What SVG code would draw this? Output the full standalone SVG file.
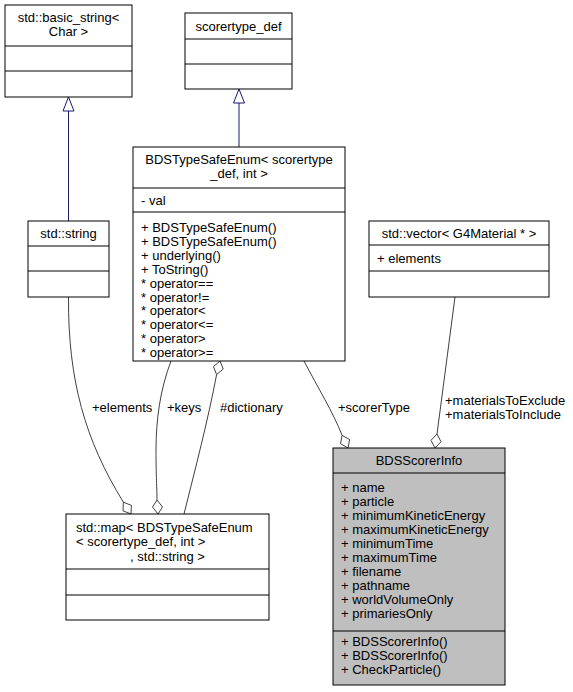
<svg xmlns="http://www.w3.org/2000/svg" width="573" height="692" viewBox="0 0 573 692">
<style>
  text { font-family: "Liberation Sans", Arial, Helvetica, sans-serif; font-size: 13px; fill: #000; }
  .c { text-anchor: middle; }
  .box { fill: #fff; stroke: #000; stroke-width: 1; }
  .hl { fill: #bfbfbf; stroke: #000; stroke-width: 1; }
  .div { stroke: #000; stroke-width: 1; }
  .inh { stroke: #191970; fill: none; stroke-width: 1; }
  .inhhead { stroke: #191970; fill: #fff; stroke-width: 1; }
  .agg { stroke: #404040; fill: none; stroke-width: 1; }
  .agghead { stroke: #404040; fill: #fff; stroke-width: 1; }
</style>
<rect width="573" height="692" fill="#fff"/>

<g id="connectors">
  <path class="inh" d="M68.5,111 L68.5,221"/>
  <polygon class="inhhead" points="68.5,97 74,111 63,111"/>
  <path class="inh" d="M239,103 L239,147"/>
  <polygon class="inhhead" points="239,89 244.5,103 233.5,103"/>

  <path class="agg" d="M68.5,297 C68,380 85,440 123.4,502.2"/>
  <polygon class="agghead" points="131,514 123,510.8 123.4,502.2 131.4,505.4"/>

  <path class="agg" d="M171,361 C160,390 156,420 156,450 C156,475 157,490 157,500"/>
  <polygon class="agghead" points="158,514 162.5,507 157,500 152.5,507"/>

  <path class="agg" d="M184,514 C195,470 208,420 216.6,374.6"/>
  <polygon class="agghead" points="220,361 223.2,369 216.6,374.6 213.5,366.6"/>

  <path class="agg" d="M304,361 C318,388 333,412 342.1,435.3"/>
  <polygon class="agghead" points="348,448 340.5,443.7 342.1,435.3 349.6,439.5"/>

  <path class="agg" d="M455,297 L437,434"/>
  <polygon class="agghead" points="435,448 441,441.7 437,434 431,440.3"/>

  <text x="92" y="412">+elements</text>
  <text x="167" y="412">+keys</text>
  <text x="220" y="412">#dictionary</text>
  <text x="338" y="412">+scorerType</text>
  <text x="445" y="404.5">+materialsToExclude</text>
  <text x="445" y="418.5">+materialsToInclude</text>
</g>

<g id="basic_string">
  <rect class="box" x="5" y="5" width="127" height="92"/>
  <line class="div" x1="5" y1="46" x2="132" y2="46"/>
  <line class="div" x1="5" y1="71" x2="132" y2="71"/>
  <text class="c" x="68.5" y="22">std::basic_string&lt;</text>
  <text class="c" x="68.5" y="36">Char &gt;</text>
</g>

<g id="scorertype_def">
  <rect class="box" x="185" y="13" width="107" height="76"/>
  <line class="div" x1="185" y1="39" x2="292" y2="39"/>
  <line class="div" x1="185" y1="64" x2="292" y2="64"/>
  <text class="c" x="238.5" y="30.5">scorertype_def</text>
</g>

<g id="BDSTypeSafeEnum">
  <rect class="box" x="133" y="147" width="212" height="214"/>
  <line class="div" x1="133" y1="188" x2="345" y2="188"/>
  <line class="div" x1="133" y1="212" x2="345" y2="212"/>
  <text class="c" x="239" y="164">BDSTypeSafeEnum&lt; scorertype</text>
  <text class="c" x="239" y="178">_def, int &gt;</text>
  <text x="141" y="204.5">- val</text>
  <text x="141" y="232">+ BDSTypeSafeEnum()</text>
  <text x="141" y="245.9">+ BDSTypeSafeEnum()</text>
  <text x="141" y="259.8">+ underlying()</text>
  <text x="141" y="273.7">+ ToString()</text>
  <text x="141" y="287.6">* operator==</text>
  <text x="141" y="301.5">* operator!=</text>
  <text x="141" y="315.4">* operator&lt;</text>
  <text x="141" y="329.3">* operator&lt;=</text>
  <text x="141" y="343.2">* operator&gt;</text>
  <text x="141" y="357.1">* operator&gt;=</text>
</g>

<g id="std_string">
  <rect class="box" x="28" y="221" width="81" height="76"/>
  <line class="div" x1="28" y1="246" x2="109" y2="246"/>
  <line class="div" x1="28" y1="271" x2="109" y2="271"/>
  <text class="c" x="68.5" y="237.5">std::string</text>
</g>

<g id="std_vector">
  <rect class="box" x="369" y="221" width="180" height="76"/>
  <line class="div" x1="369" y1="245" x2="549" y2="245"/>
  <line class="div" x1="369" y1="271" x2="549" y2="271"/>
  <text class="c" x="459" y="238">std::vector&lt; G4Material * &gt;</text>
  <text x="377" y="262.5">+ elements</text>
</g>

<g id="BDSScorerInfo">
  <rect class="hl" x="333" y="448" width="172" height="237"/>
  <line class="div" x1="333" y1="473" x2="505" y2="473"/>
  <line class="div" x1="333" y1="631" x2="505" y2="631"/>
  <text class="c" x="419" y="465">BDSScorerInfo</text>
  <text x="341" y="492">+ name</text>
  <text x="341" y="506">+ particle</text>
  <text x="341" y="520">+ minimumKineticEnergy</text>
  <text x="341" y="534">+ maximumKineticEnergy</text>
  <text x="341" y="548">+ minimumTime</text>
  <text x="341" y="562">+ maximumTime</text>
  <text x="341" y="576">+ filename</text>
  <text x="341" y="590">+ pathname</text>
  <text x="341" y="604">+ worldVolumeOnly</text>
  <text x="341" y="618">+ primariesOnly</text>
  <text x="341" y="646">+ BDSScorerInfo()</text>
  <text x="341" y="660">+ BDSScorerInfo()</text>
  <text x="341" y="674">+ CheckParticle()</text>
</g>

<g id="std_map">
  <rect class="box" x="66" y="514" width="203" height="106"/>
  <line class="div" x1="66" y1="569" x2="269" y2="569"/>
  <line class="div" x1="66" y1="595" x2="269" y2="595"/>
  <text x="76" y="531.5">std::map&lt; BDSTypeSafeEnum</text>
  <text x="76" y="546">&lt; scorertype_def, int &gt;</text>
  <text class="c" x="167.5" y="560.5">, std::string &gt;</text>
</g>
</svg>
